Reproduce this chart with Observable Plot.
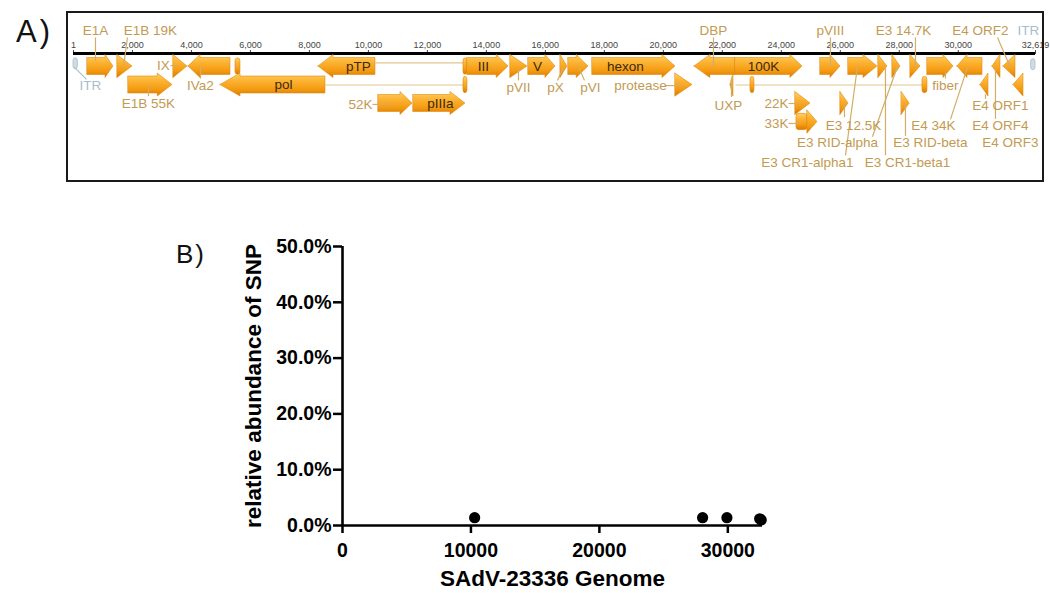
<!DOCTYPE html>
<html><head><meta charset="utf-8">
<script src="https://cdn.jsdelivr.net/npm/d3@7"></script>
<script src="https://cdn.jsdelivr.net/npm/@observablehq/plot@0.6"></script>
<style>
html,body{margin:0;padding:0;background:#fff;}
#wrap{position:relative;width:1050px;height:593px;overflow:hidden;font-family:"Liberation Sans",Arial,sans-serif;}
#panelA,#panelB{position:absolute;left:0;}
#panelA{top:0px}
#panelB{top:190px}
#box{position:absolute;left:66px;top:11px;width:974px;height:167px;border:2px solid #1a1a1a;}
.plabel{position:absolute;line-height:1;color:#111;white-space:nowrap;}
</style></head>
<body>
<div id="wrap">
  <div id="panelA"></div>
  <div id="panelB"></div>
  <div id="box"></div>
  <div class="plabel" style="left:16px;top:16px;font-size:31px;letter-spacing:3px">A)</div>
  <div class="plabel" style="left:176px;top:241px;font-size:26px;letter-spacing:2px">B)</div>
</div>
<script>
// ---------------- Panel A data: SAdV-23336 genome map ----------------
const genomeLength = 32619;
const genomeTicks = [1, 2000, 4000, 6000, 8000, 10000, 12000, 14000, 16000, 18000, 20000, 22000, 24000, 26000, 28000, 30000, 32619];
const axisLane = 0.3;

// [name, start, end, strand, lane, headLength]
const genes = [
  ["E1A", 475, 1356, 1, 1, 270],
  ["E1B 19K", 1492, 2000, 1, 1, 508],
  ["E1B 55K", 1865, 3357, 1, 2, 500],
  ["IX", 3391, 3865, 1, 1, 474],
  ["IVa2", 3899, 5323, -1, 1, 410],
  ["pol", 4984, 8544, -1, 2, 680],
  ["pTP", 8307, 10240, -1, 1, 510],
  ["52K", 10341, 11494, 1, 3, 407],
  ["pIIIa", 11528, 13291, 1, 3, 508],
  ["III", 13359, 14749, 1, 1, 400],
  ["pVII", 14817, 15393, 1, 1, 576],
  ["V", 15427, 16343, 1, 1, 340],
  ["pX", 16513, 16750, 1, 1, 237],
  ["pVI", 16784, 17462, 1, 1, 400],
  ["hexon", 17597, 20411, 1, 1, 440],
  ["protease", 20411, 20988, 1, 2, 577],
  ["DBP", 21056, 22446, -1, 1, 540],
  ["UXP", 22277, 22378, -1, 2, 101],
  ["100K", 22446, 24718, 1, 1, 410],
  ["22K", 24480, 24989, 1, 3, 509],
  ["33K", 24887, 25226, 1, 4, 339],
  ["pVIII", 25328, 26006, 1, 1, 340],
  ["E3 12.5K", 26006, 26277, 1, 3, 271],
  ["E3 CR1-alpha1", 26277, 27260, 1, 1, 474],
  ["E3 CR1-beta1", 27294, 27600, 1, 1, 306],
  ["E3 RID-alpha", 27769, 28040, 1, 1, 271],
  ["E3 RID-beta", 28080, 28350, 1, 3, 270],
  ["E3 14.7K", 28380, 28719, 1, 1, 339],
  ["fiber", 28956, 29837, 1, 1, 340],
  ["E4 34K", 29973, 30821, -1, 1, 340],
  ["E4 ORF1", 30753, 31024, -1, 2, 271],
  ["E4 ORF4", 31160, 31431, -1, 1, 271],
  ["E4 ORF2", 31533, 31940, -1, 1, 407],
  ["E4 ORF3", 31872, 32211, -1, 2, 339]
];

// exon blocks [start, end, lane]
const exons = [[5493, 5662, 1], [13223, 13359, 1], [13223, 13359, 2], [22955, 23090, 2], [28786, 28956, 2], [24514, 24887, 4]];
// ITR repeats [start, end, lane]
const itrs = [[1, 150, 0.85], [32470, 32619, 0.9]];
// intron connector lines [start, end, lane]
const introns = [[10240, 13223, 0.8], [8544, 13223, 2], [22446, 28786, 2]];

// labels drawn inside features [text, x, lane]
const innerLabels = [["pTP", 9663, 1], ["pol", 7120, 2], ["III", 13902, 1], ["V", 15733, 1], ["pIIIa", 12444, 3], ["hexon", 18716, 1], ["100K", 23395, 1]];

// outside labels [text, x, lane]
const outerLabels = [
  ["E1A", 746, -0.95], ["E1B 19K", 2611, -0.95], ["DBP", 21700, -0.95], ["pVIII", 25667, -0.95],
  ["E3 14.7K", 28142, -0.95], ["E4 ORF2", 30753, -0.95],
  ["IVa2", 4306, 2.03], ["pVII", 15088, 2.14], ["pX", 16343, 2.14], ["pVI", 17530, 2.14],
  ["protease", 19225, 2.03], ["fiber", 29566, 2.03], ["IX", 3052, 0.95],
  ["E1B 55K", 2543, 3.0], ["52K", 9731, 3.05], ["UXP", 22209, 3.11], ["22K", 23836, 3.0], ["E4 ORF1", 31431, 3.11],
  ["33K", 23836, 4.08], ["E3 12.5K", 26447, 4.19], ["E4 34K", 29159, 4.19], ["E4 ORF4", 31431, 4.19],
  ["E3 RID-alpha", 25905, 5.11], ["E3 RID-beta", 29057, 5.11], ["E4 ORF3", 31770, 5.11],
  ["E3 CR1-alpha1", 24887, 6.19], ["E3 CR1-beta1", 28278, 6.19]
];
const itrLabels = [["ITR", 576, 2.03], ["ITR", 32380, -0.95]];

// leader lines [x1, lane1, x2, lane2]
const leaders = [
  [746, -0.57, 746, 0.7], [1831, -0.57, 1695, 1.05], [21700, -0.57, 21700, 1.0], [25667, -0.57, 25667, 1.0],
  [28549, -0.57, 28549, 1.0], [31330, -0.57, 31770, 1.05],
  [4306, 1.0, 4306, 1.65], [15088, 1.1, 15088, 1.75], [16615, 1.05, 16410, 1.75], [17122, 1.0, 17326, 1.75],
  [20072, 2.03, 20682, 2.03], [29566, 1.3, 29566, 1.65], [3289, 0.95, 3526, 0.95],
  [2543, 2.0, 2543, 2.6], [10138, 3.05, 10748, 3.05], [22310, 1.6, 22310, 2.65], [24243, 3.0, 24650, 3.0],
  [30922, 2.5, 30922, 2.75], [24243, 4.08, 24650, 4.08], [26142, 3.0, 26142, 3.75],
  [30312, 1.05, 29736, 3.86], [31262, 1.05, 31262, 3.83], [27938, 1.0, 27091, 4.8],
  [28210, 3.0, 28210, 4.75], [26583, 1.0, 26176, 5.8], [27532, 1.0, 27532, 5.8]
];
const itrLeaders = [[34, 1.05, 441, 1.7]];

// ---------------- Panel B data: SNP abundance ----------------
const snpPosition = [10288, 28036, 29930, 32480, 32600];
const snpAbundance = [0.014, 0.014, 0.014, 0.012, 0.010];
const xTicksB = [0, 10000, 20000, 30000];
const yTicksB = [0, 0.1, 0.2, 0.3, 0.4, 0.5];
const xTitleB = "SAdV-23336 Genome";
const yTitleB = "relative abundance of SNP";

// ---------------- build arrow polygons ----------------
const bodyHalf = 0.46, headHalf = 0.62, exonHalf = 0.44;
function arrowPoints([name, s, e, strand, lane, head]) {
  const h = Math.min(head, e - s);
  const pts = [];
  if (strand > 0) {
    if (h < e - s) pts.push([s, lane - bodyHalf, lane + bodyHalf], [e - h, lane - bodyHalf, lane + bodyHalf]);
    pts.push([e - h, lane - headHalf, lane + headHalf], [e, lane, lane]);
  } else {
    pts.push([s, lane, lane], [s + h, lane - headHalf, lane + headHalf]);
    if (h < e - s) pts.push([s + h, lane - bodyHalf, lane + bodyHalf], [e, lane - bodyHalf, lane + bodyHalf]);
  }
  return pts.map(([x, y1, y2]) => ({name, x, y1, y2}));
}
const arrowData = genes.flatMap(arrowPoints);

const tan = "#c29a52", tanLine = "#d3ad68", itrColor = "#a9bccb";
const fontFam = "Liberation Sans, Arial, sans-serif";

const plotA = Plot.plot({
  width: 1050, height: 190,
  marginTop: 53, marginBottom: 0, marginLeft: 73, marginRight: 15,
  style: {fontFamily: fontFam, background: "transparent", color: "#444"},
  x: {domain: [1, genomeLength]},
  y: {domain: [0, 10], range: [47.5, 232.5], axis: null},
  marks: [
    Plot.axisX({anchor: "top", ticks: genomeTicks, tickFormat: d3.format(","), tickSize: 4, tickPadding: 2, fontSize: 9, label: null}),
    Plot.ruleY([axisLane], {x1: () => 1, x2: () => genomeLength, stroke: "black", strokeWidth: 3}),
    Plot.link(introns, {x1: d => d[0], x2: d => d[1], y1: d => d[2], y2: d => d[2], stroke: "#e2c690", strokeWidth: 1.2}),
    Plot.rect(itrs, {x1: d => d[0], x2: d => d[1], y1: d => d[2] - 0.3, y2: d => d[2] + 0.3, rx: 3, fill: "#cddbe6", stroke: "#a8bfcf", strokeWidth: 0.8}),
    Plot.link(itrLeaders, {x1: d => d[0], y1: d => d[1], x2: d => d[2], y2: d => d[3], stroke: itrColor, strokeWidth: 1.2}),
    Plot.rect(exons, {x1: d => d[0], x2: d => d[1], y1: d => d[2] - exonHalf, y2: d => d[2] + exonHalf, rx: 3, fill: "url(#og)", stroke: "#e08a10", strokeWidth: 0.6}),
    Plot.areaY(arrowData, {x: "x", y1: "y1", y2: "y2", z: "name", curve: "linear", fill: "url(#og)", stroke: "#e08a10", strokeWidth: 0.6}),
    Plot.link(leaders, {x1: d => d[0], y1: d => d[1], x2: d => d[2], y2: d => d[3], stroke: tanLine, strokeWidth: 1.2}),
    Plot.text(innerLabels, {x: d => d[1], y: d => d[2], text: d => d[0], fill: "#3a2a12", fontSize: 13.5}),
    Plot.text(outerLabels, {x: d => d[1], y: d => d[2], text: d => d[0], fill: tan, fontSize: 13.5}),
    Plot.text(itrLabels, {x: d => d[1], y: d => d[2], text: d => d[0], fill: itrColor, fontSize: 13.5})
  ]
});
// orange gradient used by the features
const ns = "http://www.w3.org/2000/svg";
const defs = document.createElementNS(ns, "defs");
const grad = document.createElementNS(ns, "linearGradient");
grad.setAttribute("id", "og");
grad.setAttribute("x1", "0"); grad.setAttribute("y1", "0");
grad.setAttribute("x2", "0"); grad.setAttribute("y2", "1");
[["0", "#ffd062"], ["0.35", "#fcb232"], ["0.7", "#f49b12"], ["1", "#d97a00"]].forEach(([o, c]) => {
  const st = document.createElementNS(ns, "stop");
  st.setAttribute("offset", o); st.setAttribute("stop-color", c);
  grad.appendChild(st);
});
defs.appendChild(grad);
plotA.insertBefore(defs, plotA.firstChild);
document.getElementById("panelA").appendChild(plotA);

// ---------------- Panel B ----------------
const snps = snpPosition.map((p, i) => ({position: p, abundance: snpAbundance[i]}));
const plotB = Plot.plot({
  width: 1050, height: 403,
  marginLeft: 342, marginRight: 288, marginTop: 56, marginBottom: 68,
  style: {fontFamily: fontFam, background: "transparent", color: "black", fontWeight: "bold", fontSize: "19.5px"},
  x: {domain: [0, 32700]},
  y: {domain: [0, 0.5]},
  marks: [
    Plot.axisY({ticks: yTicksB, tickFormat: d3.format(".1%"), tickSize: 9, tickPadding: 2, strokeWidth: 2.5, fontSize: 19.5, fontWeight: "bold", label: null}),
    Plot.axisX({ticks: xTicksB, tickFormat: d => String(d), tickSize: 8, tickPadding: 10, strokeWidth: 2.5, fontSize: 19.5, fontWeight: "bold", label: null}),
    Plot.ruleX([0], {stroke: "black", strokeWidth: 2.6}),
    Plot.ruleY([0], {stroke: "black", strokeWidth: 2.6}),
    Plot.dot(snps, {x: "position", y: "abundance", r: 5.6, fill: "black"}),
    Plot.text([yTitleB], {frameAnchor: "left", textAnchor: "middle", lineAnchor: "middle", dx: -89, rotate: -90, fontSize: 22.5, fontWeight: "bold", fill: "black"}),
    Plot.text([xTitleB], {frameAnchor: "bottom", textAnchor: "middle", lineAnchor: "middle", dy: 53, fontSize: 22.5, fontWeight: "bold", fill: "black"})
  ]
});
document.getElementById("panelB").appendChild(plotB);
</script>
</body></html>
